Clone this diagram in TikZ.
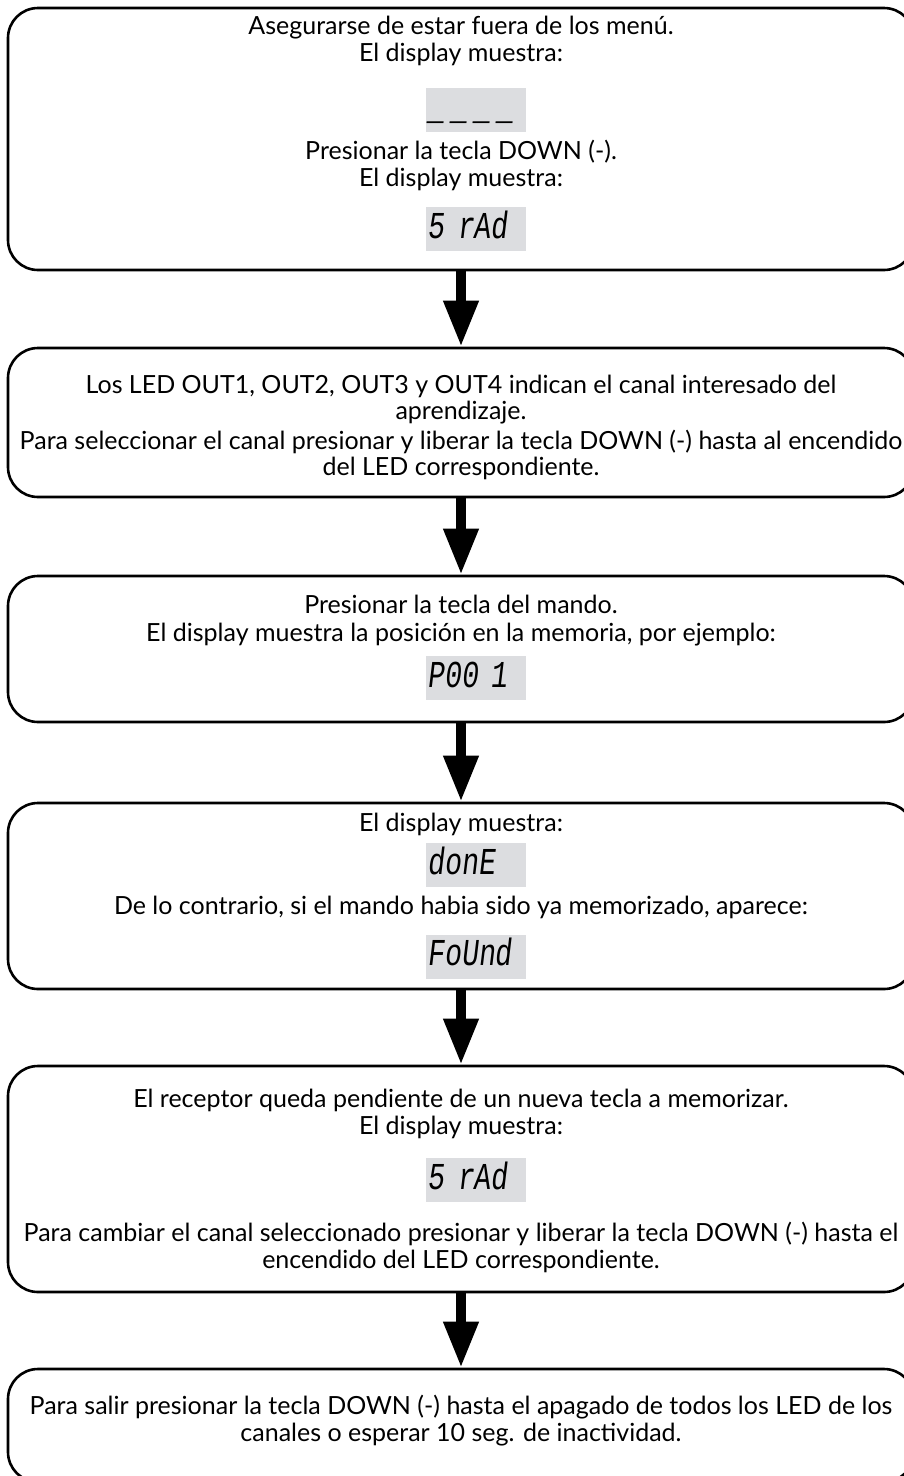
\documentclass[tikz,border=0pt]{standalone}
\usepackage{fontspec}
\setmainfont{Lato}
\newfontfamily\segfont{Liberation Mono}[FakeSlant=0.12,FakeStretch=0.74]
\usetikzlibrary{arrows.meta}
\definecolor{dispgray}{RGB}{220,221,224}
\tikzset{
  stepbox/.style={draw=black, line width=2.6pt, rounded corners=30pt, minimum width=906pt, inner sep=0pt},
  txt/.style={font=\fontsize{25}{27}\selectfont, inner sep=0pt, text height=22pt, text depth=6pt},
  disp/.style={fill=dispgray, minimum width=100pt, minimum height=44pt, inner sep=0pt,
    text width=96pt, align=left, text height=23pt, text depth=5pt,
    font=\segfont\fontsize{38}{38}\selectfont},
  bigarrow/.style={line width=10pt, -{Triangle[width=33pt,length=46pt]}},
}
\begin{document}
\begin{tikzpicture}[x=1pt,y=-1pt]
\useasboundingbox (0,0) rectangle (904,1476);
% boxes
\node[stepbox, minimum height=262pt] (b1) at (461,139) {};
\node[stepbox, minimum height=149pt] (b2) at (461,422.5) {};
\node[stepbox, minimum height=146pt] (b3) at (461,649) {};
\node[stepbox, minimum height=186pt] (b4) at (461,896) {};
\node[stepbox, minimum height=226pt] (b5) at (461,1179) {};
\node[stepbox, minimum height=113pt] (b6) at (461,1425.5) {};
% box 1
\node[txt] (t11) at (461,26) {Asegurarse de estar fuera de los menú.};
\node[txt] (t12) at (461,53) {El display muestra:};
\node[disp] (d11) at (475.5,110) {\_\hspace{6pt}\_\hspace{6pt}\_\hspace{6pt}\_};
\node[txt] (t13) at (461,151) {Presionar la tecla DOWN (-).};
\node[txt] (t14) at (461,178) {El display muestra:};
\node[disp] (d12) at (475.5,229) {5 rAd};
% box 2
\node[txt] (t21) at (461,385) {Los LED OUT1, OUT2, OUT3 y OUT4 indican el canal interesado del};
\node[txt] (t22) at (461,411) {aprendizaje.};
\node[txt] (t23) at (461,441) {Para seleccionar el canal presionar y liberar la tecla DOWN (-) hasta al encendido};
\node[txt] (t24) at (461,467) {del LED correspondiente.};
% box 3
\node[txt] (t31) at (461,605) {Presionar la tecla del mando.};
\node[txt] (t32) at (461,633) {El display muestra la posición en la memoria, por ejemplo:};
\node[disp] (d31) at (475.5,678) {P00 1};
% box 4
\node[txt] (t41) at (461,823) {El display muestra:};
\node[disp] (d41) at (475.5,865) {donE};
\node[txt] (t42) at (461,906) {De lo contrario, si el mando habia sido ya memorizado, aparece:};
\node[disp] (d42) at (475.5,956.5) {FoUnd};
% box 5
\node[txt] (t51) at (461,1099) {El receptor queda pendiente de un nueva tecla a memorizar.};
\node[txt] (t52) at (461,1126) {El display muestra:};
\node[disp] (d51) at (475.5,1180) {5 rAd};
\node[txt] (t53) at (461,1233) {Para cambiar el canal seleccionado presionar y liberar la tecla DOWN (-) hasta el};
\node[txt] (t54) at (461,1260) {encendido del LED correspondiente.};
% box 6
\node[txt] (t61) at (461,1406) {Para salir presionar la tecla DOWN (-) hasta el apagado de todos los LED de los};
\node[txt] (t62) at (461,1433) {canales o esperar 10 seg. de inactividad.};
% arrows
\draw[bigarrow] (b1.south) -- (b2.north);
\draw[bigarrow] (b2.south) -- (b3.north);
\draw[bigarrow] (b3.south) -- (b4.north);
\draw[bigarrow] (b4.south) -- (b5.north);
\draw[bigarrow] (b5.south) -- (b6.north);
\end{tikzpicture}
\end{document}
